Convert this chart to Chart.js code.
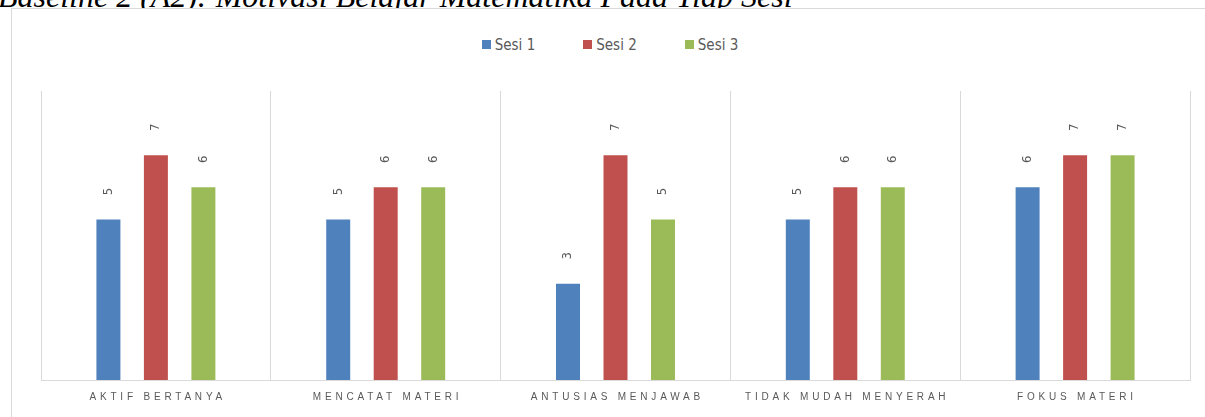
<!DOCTYPE html>
<html>
<head>
<meta charset="utf-8">
<script src="https://cdn.jsdelivr.net/npm/chart.js@4/dist/chart.umd.min.js"></script>
<style>
  html, body { margin: 0; padding: 0; background: #fff; overflow: hidden; }
  #wrap { position: relative; width: 1205px; height: 417px; }
  #title { position: absolute; left: -2px; top: -20px; font: italic 32px 'Liberation Serif', serif; line-height: 32px; white-space: nowrap; color: #000; }
  #box { position: absolute; left: 11px; top: 8px; width: 1300px; height: 500px; border: 1px solid #d9d9d9; box-sizing: border-box; background: #fff; }
  #legend { position: absolute; left: 0; width: 1220px; top: 36px; text-align: center; font: 15px 'Liberation Sans Narrow', 'DejaVu Sans Condensed', sans-serif; color: #595959; }
  #legend span.item { display: inline-block; margin: 0 24px; }
  #legend i { display: inline-block; width: 9px; height: 9px; margin-right: 4px; vertical-align: 1px; }
  canvas { position: absolute; left: 0; top: 0; }
</style>
</head>
<body>
<div id="wrap">
  <div id="title">Baseline 2 (A2): Motivasi Belajar Matematika Pada Tiap Sesi</div>
  <div id="box"></div>
  <div id="legend"></div>
  <canvas id="c" width="1205" height="417"></canvas>
</div>
<script>
// categories and series
const categories = ['AKTIF BERTANYA', 'MENCATAT MATERI', 'ANTUSIAS MENJAWAB', 'TIDAK MUDAH MENYERAH', 'FOKUS MATERI'];
const seriesNames = ['Sesi 1', 'Sesi 2', 'Sesi 3'];
const sesi1 = [5, 5, 3, 5, 6];
const sesi2 = [7, 6, 7, 6, 7];
const sesi3 = [6, 6, 5, 6, 7];
const colors = ['#4f81bd', '#c0504d', '#9bbb59'];

// html legend
const leg = document.getElementById('legend');
seriesNames.forEach((n, i) => {
  const s = document.createElement('span');
  s.className = 'item';
  s.innerHTML = '<i style="background:' + colors[i] + '"></i>' + n;
  leg.appendChild(s);
});

// value labels above bars, rotated
const valueLabels = {
  id: 'valueLabels',
  afterDatasetsDraw(chart) {
    const ctx = chart.ctx;
    ctx.save();
    ctx.fillStyle = '#595959';
    ctx.font = "13px 'Liberation Sans Narrow', 'DejaVu Sans Condensed', sans-serif";
    ctx.textAlign = 'center';
    ctx.textBaseline = 'middle';
    chart.data.datasets.forEach((ds, di) => {
      chart.getDatasetMeta(di).data.forEach((bar, i) => {
        ctx.save();
        ctx.translate(bar.x, bar.y - 28);
        ctx.rotate(-Math.PI / 2);
        ctx.fillText(String(ds.data[i]), 0, 0);
        ctx.restore();
      });
    });
    ctx.restore();
  }
};

// category labels with letter spacing
const catLabels = {
  id: 'catLabels',
  afterDraw(chart) {
    const ctx = chart.ctx;
    const xs = chart.scales.x;
    ctx.save();
    ctx.fillStyle = '#595959';
    ctx.font = "10px 'Liberation Sans', sans-serif";
    ctx.letterSpacing = '3.8px';
    ctx.textAlign = 'center';
    ctx.textBaseline = 'middle';
    categories.forEach((c, i) => {
      ctx.fillText(c, xs.getPixelForValue(i) + 1.9, chart.chartArea.bottom + 17);
    });
    ctx.restore();
  }
};

new Chart(document.getElementById('c'), {
  type: 'bar',
  data: {
    labels: categories,
    datasets: [
      { label: seriesNames[0], data: sesi1, backgroundColor: colors[0] },
      { label: seriesNames[1], data: sesi2, backgroundColor: colors[1] },
      { label: seriesNames[2], data: sesi3, backgroundColor: colors[2] }
    ]
  },
  options: {
    responsive: false,
    animation: false,
    categoryPercentage: 0.62,
    barPercentage: 0.505,
    layout: { padding: { top: 91, left: 41, right: 15, bottom: 37 } },
    plugins: { legend: { display: false }, tooltip: { enabled: false } },
    scales: {
      x: {
        ticks: { display: false },
        grid: { color: '#d9d9d9', drawTicks: false, offset: true },
        border: { color: '#d9d9d9' }
      },
      y: { display: false, min: 0, max: 9 }
    }
  },
  plugins: [valueLabels, catLabels]
});
</script>
</body>
</html>
